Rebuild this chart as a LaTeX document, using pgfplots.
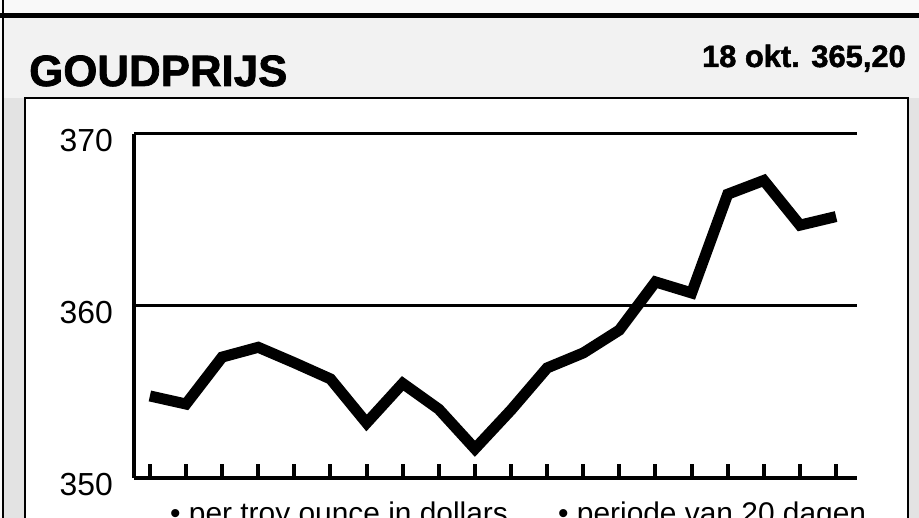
\documentclass[border=0pt]{standalone}
\usepackage{pgfplots}
\pgfplotsset{compat=1.18}
\usepackage{fontspec}
\setmainfont{Liberation Sans}
\newfontfamily\heavyfont{Liberation Sans Bold}[FakeBold=1.6]
\begin{document}
\begin{tikzpicture}
\useasboundingbox (0bp,0bp) rectangle (919bp,518bp);
\clip (0bp,0bp) rectangle (919bp,518bp);
\begin{scope}[x=1bp,y=1bp]
\fill[gray!5] (0,0) rectangle (919,518);
\fill[gray!10] (3,-5) rectangle (930,500);
\fill[gray!22] (3,-5) rectangle (25,420);
\fill[gray!22] (908,-5) rectangle (930,420);
\fill[white] (25,-5) rectangle (908,420);
\draw[line width=2.5] (25,-10) -- (25,420) -- (908,420) -- (908,-10);
\draw[line width=2.5] (3,-10) -- (3,530);
\draw[line width=6] (0,502.5) -- (930,502.5);
\node[anchor=base west, inner sep=0, font=\fontsize{44}{44}\heavyfont] at (29,432) {GOUDPRIJS};
\node[anchor=base east, inner sep=0, font=\fontsize{31}{31}\heavyfont] at (906,451) {18 okt. 365,20};
\node[anchor=base west, inner sep=0, font=\fontsize{30}{30}\selectfont] at (170,-5) {• per troy ounce in dollars};
\node[anchor=base west, inner sep=0, font=\fontsize{30}{30}\selectfont] at (558,-5) {• periode van 20 dagen};
\end{scope}
\begin{axis}[
  at={(134bp,40bp)}, anchor=south west,
  scale only axis, width=723bp, height=344bp,
  xmin=-0.44, xmax=19.58, ymin=350, ymax=370,
  axis x line=bottom, axis y line=left,
  axis line style={-, line width=4.5bp, black},
  xtick={0,...,19}, xticklabels={},
  tick align=inside,
  major tick length=14bp,
  xtick style={line width=4bp, black},
  ytick={350,360,370},
  ytick style={draw=none},
  ymajorgrids, grid style={line width=3bp, black},
  /pgf/number format/assume math mode=true,
  yticklabel style={font=\fontsize{32}{32}\selectfont, anchor=east, inner sep=0pt, xshift=-21bp, yshift=-7bp},
  clip=false,
]
\addplot[black, line width=11bp, line join=miter, miter limit=3] coordinates {
(0,354.77) (1,354.3) (2,357.03) (3,357.6) (4,356.7) (5,355.76) (6,353.2) (7,355.5) (8,354.0) (9,351.7)
(10,353.95) (11,356.4) (12,357.27) (13,358.6) (14,361.4) (15,360.76) (16,366.5) (17,367.3) (18,364.7) (19,365.2)
};
\end{axis}
\end{tikzpicture}
\end{document}
